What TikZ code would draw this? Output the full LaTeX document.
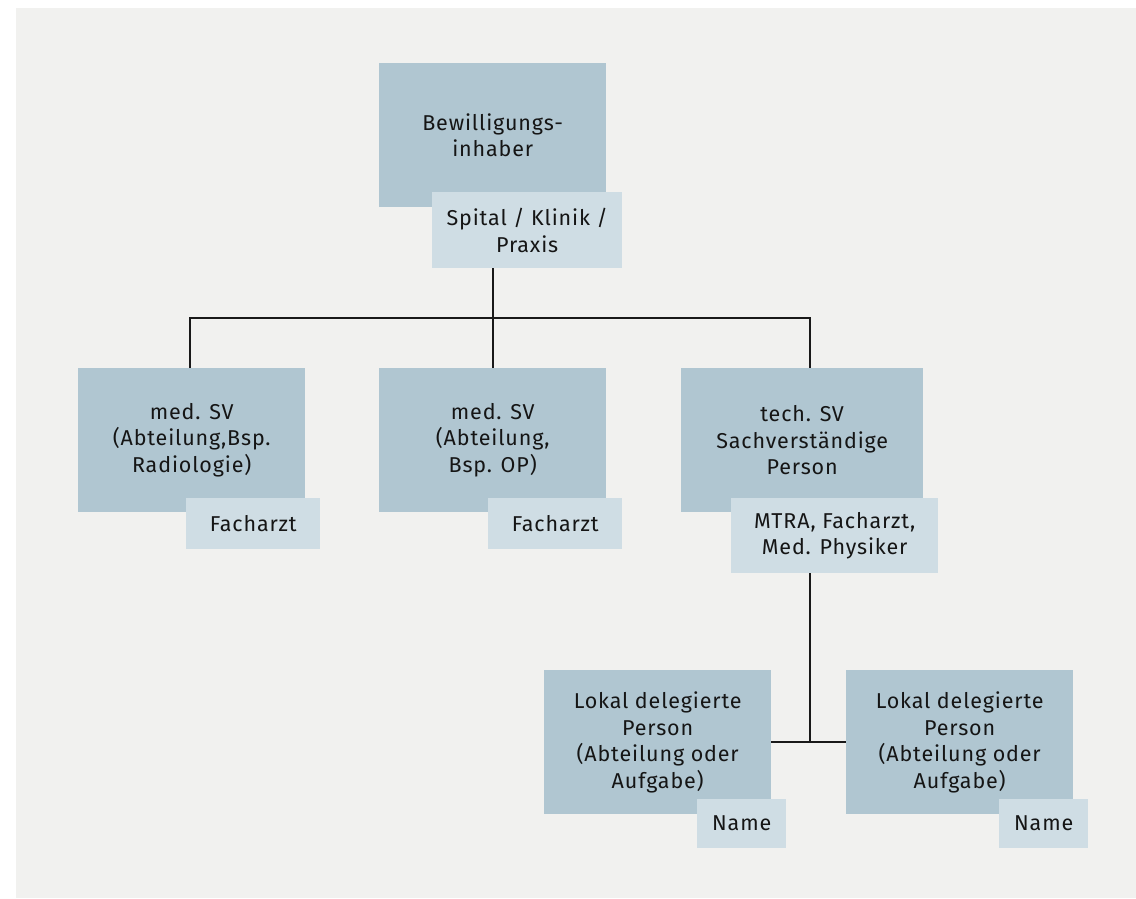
\documentclass[tikz,border=0pt]{standalone}
\usepackage{fontspec}
\setmainfont{Fira Sans}[LetterSpace=4]
\begin{document}
\begin{tikzpicture}[x=1pt,y=-1pt,
  mainbox/.style={fill=mainc,draw=none,anchor=north west,inner sep=0pt,align=center,
    font=\fontsize{21.5}{26.5}\selectfont,text=txt},
  subbox/.style={fill=subc,draw=none,anchor=north west,inner sep=0pt,align=center,
    font=\fontsize{21.5}{26.5}\selectfont,text=txt},
  conn/.style={draw=black!90,line width=1.3pt}]
\definecolor{bgc}{HTML}{F1F1EF}
\definecolor{mainc}{HTML}{B0C6D1}
\definecolor{subc}{HTML}{CFDDE4}
\definecolor{txt}{HTML}{151515}
\useasboundingbox (0,0) rectangle (1136,898);
\fill[bgc] (16,8) rectangle (1136,898);
% level 0
\node[mainbox,minimum width=227pt,minimum height=144pt] (m1) at (379,63) {Bewilligungs-\\inhaber};
\node[subbox,minimum width=190pt,minimum height=76pt] (s1) at (432,192) {Spital / Klinik /\\Praxis};
% level 1
\node[mainbox,minimum width=227pt,minimum height=144pt] (m2) at (78,368) {med. SV\\(Abteilung,Bsp.\\Radiologie)};
\node[subbox,minimum width=134pt,minimum height=51pt] (s2) at (186,498) {Facharzt};
\node[mainbox,minimum width=227pt,minimum height=144pt] (m3) at (379,368) {med. SV\\(Abteilung,\\Bsp. OP)};
\node[subbox,minimum width=134pt,minimum height=51pt] (s3) at (488,498) {Facharzt};
\node[mainbox,minimum width=242pt,minimum height=144pt] (m4) at (681,368) {tech. SV\\Sachverständige\\Person};
\node[subbox,minimum width=207pt,minimum height=75pt] (s4) at (731,498) {MTRA, Facharzt,\\Med. Physiker};
% level 2
\node[mainbox,minimum width=227pt,minimum height=144pt] (m5) at (544,670) {Lokal delegierte\\Person\\(Abteilung oder\\Aufgabe)};
\node[subbox,minimum width=89pt,minimum height=49pt] (s5) at (697,799) {Name};
\node[mainbox,minimum width=227pt,minimum height=144pt] (m6) at (846,670) {Lokal delegierte\\Person\\(Abteilung oder\\Aufgabe)};
\node[subbox,minimum width=89pt,minimum height=49pt] (s6) at (999,799) {Name};
% connectors
\coordinate (j1) at (493,318);
\coordinate (t2) at (190,368);
\coordinate (t4) at (810,368);
\coordinate (j2) at (810,742);
\draw[conn] (s1.south -| j1) -- (j1);
\draw[conn] (m3.north -| j1) -- (j1);
\draw[conn] (t2) |- (j1) -| (t4);
\draw[conn] (s4.south -| j2) -- (j2);
\draw[conn] (m5.east |- j2) -- (m6.west |- j2);
\end{tikzpicture}
\end{document}
